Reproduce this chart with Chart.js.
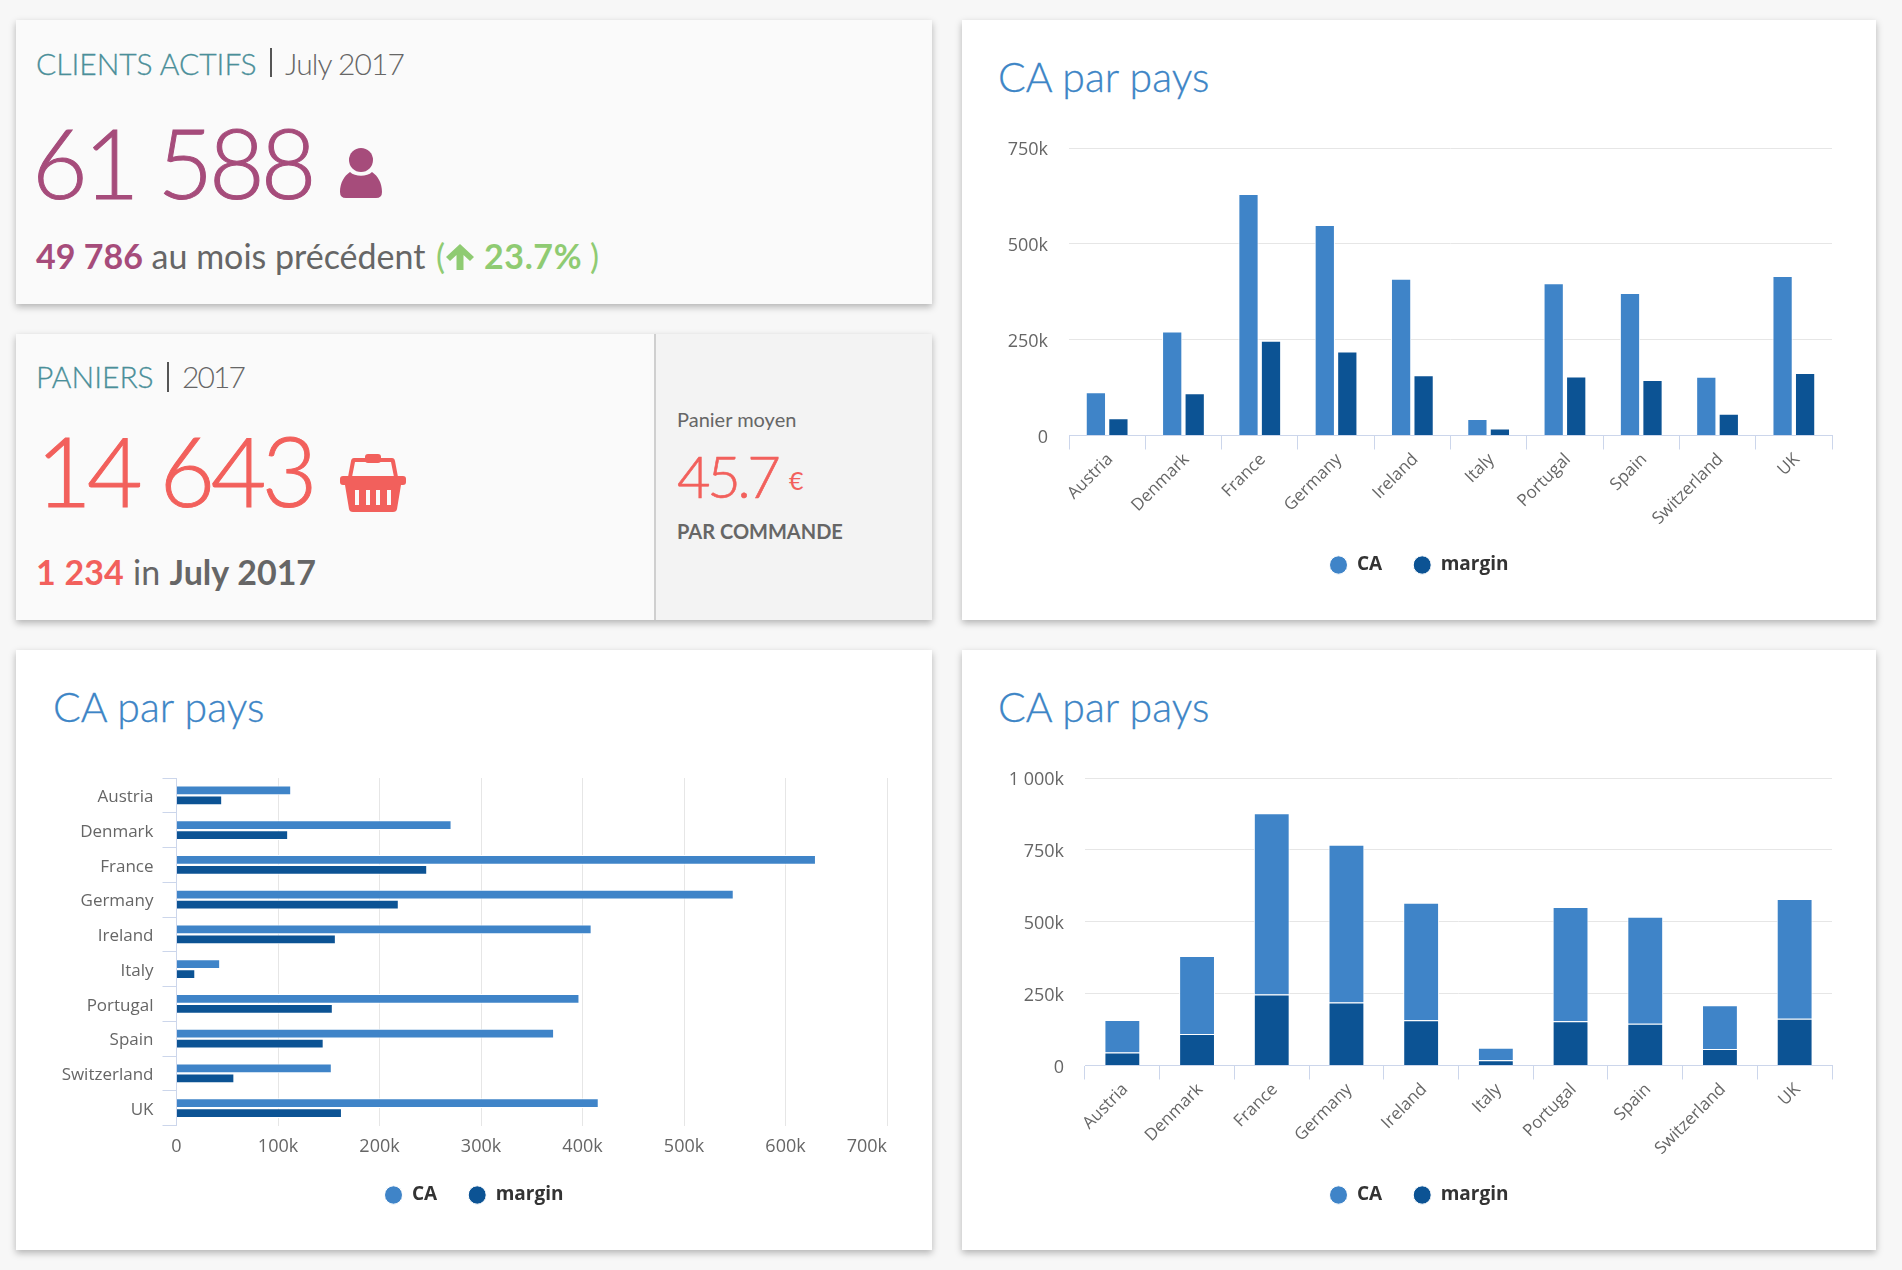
<!DOCTYPE html>
<html><head><meta charset="utf-8">
<script src="https://cdn.jsdelivr.net/npm/chart.js@4"></script>
<style>
html,body{margin:0;padding:0;background:#f7f7f7;width:1902px;height:1270px;overflow:hidden;font-family:Lato,sans-serif;}
.card{position:absolute;background:#fff;box-shadow:0 3px 7px rgba(0,0,0,.28);}
.soft{background:#fafafa;}
.t{position:absolute;white-space:nowrap;line-height:1;color:#666;}
canvas{position:absolute;display:block;}
.head{font-size:30px;font-weight:300;}
.teal{color:#4a8f99;-webkit-text-stroke:.3px currentColor;}
.big{font-weight:300;font-size:96px;letter-spacing:-4px;-webkit-text-stroke:1px currentColor;}
.sub{font-size:34px;font-weight:400;}
.green{color:#8fcb72;}
.title{font-size:41px;font-weight:300;color:#3d85c6;-webkit-text-stroke:.3px currentColor;}
.bar{position:absolute;width:2px;background:#555;}
svg{position:absolute;}
</style></head><body>
<div class="card soft" style="left:16px;top:20px;width:916px;height:284px"></div>
<div class="card soft" style="left:16px;top:334px;width:916px;height:286px"></div>
<div style="position:absolute;left:654px;top:334px;width:278px;height:286px;background:#f3f3f3;border-left:2px solid #cfcfcf;box-sizing:border-box"></div>
<div class="card" style="left:962px;top:20px;width:914px;height:600px"></div>
<div class="card" style="left:16px;top:650px;width:916px;height:600px"></div>
<div class="card" style="left:962px;top:650px;width:914px;height:600px"></div>

<div class="t head teal" style="left:36px;top:48px">CLIENTS ACTIFS</div>
<div class="bar" style="left:270px;top:48px;height:29px"></div>
<div class="t head" style="left:285px;top:48px;letter-spacing:-.9px">July 2017</div>
<div class="t big" style="left:32px;top:114px;color:#a64c7b">61 588</div>
<svg style="left:340px;top:148px" width="42" height="50" viewBox="0 0 42 50"><circle cx="21" cy="12" r="12" fill="#a64c7b"/><path d="M0 44C0 35 4 28 10 24C15 29 27 29 32 24C38 28 42 35 42 44Q42 50 36 50H6Q0 50 0 44Z" fill="#a64c7b"/></svg>
<div class="t sub" style="left:36px;top:239px"><b style="color:#a64c7b">49 786</b> au mois précédent</div>
<div class="t sub green" style="left:436px;top:239px">(</div>
<svg style="left:446px;top:244px" width="28" height="26" viewBox="0 0 28 26"><path d="M14 0L28 13L24 17L17.500 11V26H10.500V11L4 17L0 13Z" fill="#8fcb72"/></svg>
<div class="t sub green" style="left:484px;top:239px;font-weight:700;letter-spacing:.6px">23.7%</div>
<div class="t sub green" style="left:590px;top:239px">)</div>

<div class="t head teal" style="left:36px;top:361px">PANIERS</div>
<div class="bar" style="left:167px;top:362px;height:30px"></div>
<div class="t head" style="left:182px;top:361px;letter-spacing:-1.9px">2017</div>
<div class="t big" style="left:36px;top:422px;color:#f2605c;letter-spacing:-4.6px">14 643</div>
<svg style="left:340px;top:454px" width="66" height="58" viewBox="0 0 66 58"><g fill="#f2605c"><path d="M8 23L11 7Q11.500 4 14 4H52Q54.500 4 55 7L58 23H54L51 8H15L12 23Z"/><rect x="25" y="0" width="16" height="9" rx="3"/><rect x="0" y="22" width="66" height="9" rx="3"/><path d="M5 31H61L57 55Q56.500 58 53 58H13Q9.500 58 9 55ZM15 36V51H19V36ZM26 36V51H30V36ZM36 36V51H40V36ZM47 36V51H51V36Z" fill-rule="evenodd"/></g></svg>
<div class="t sub" style="left:36px;top:555px;word-spacing:.6px"><b style="color:#f2605c">1 234</b> in <b>July 2017</b></div>

<div class="t" style="left:677px;top:409px;font-size:20px">Panier moyen</div>
<div class="t" style="left:677px;top:447px;font-size:58px;font-weight:300;letter-spacing:-3.5px;color:#f2605c;-webkit-text-stroke:.6px currentColor">45.7</div>
<div class="t" style="left:789px;top:468px;font-size:25px;font-weight:400;color:#f2605c">€</div>
<div class="t" style="left:677px;top:521px;font-size:20px;font-weight:700">PAR COMMANDE</div>

<div class="t title" style="left:998px;top:56px">CA par pays</div>
<div class="t title" style="left:53px;top:686px">CA par pays</div>
<div class="t title" style="left:998px;top:686px">CA par pays</div>

<canvas id="c1" width="914" height="600" style="left:962px;top:20px"></canvas>
<canvas id="c2" width="916" height="600" style="left:16px;top:650px"></canvas>
<canvas id="c3" width="914" height="600" style="left:962px;top:650px"></canvas>
<script>
const categories=['Austria','Denmark','France','Germany','Ireland','Italy','Portugal','Spain','Switzerland','UK'];
const caValues=[113000,271000,630000,549000,409000,43000,397000,372000,153000,416000];
const marginValues=[45000,110000,247000,219000,157000,18500,154000,145000,57000,163000];
const columnTicks=['0','250k','500k','750k'];
const stackedTicks=['0','250k','500k','750k','1 000k'];
const barTicks=['0','100k','200k','300k','400k','500k','600k','700k'];
const caColor='#3f84c8', marginColor='#0c5394';
const catFont={family:'"Open Sans"',size:17};
const valFont={family:'"Open Sans"',size:18};
const legendCfg={position:'bottom',labels:{usePointStyle:true,pointStyleWidth:18,boxWidth:18,boxHeight:13,padding:31,color:'#333',font:{family:'"Open Sans"',size:19,weight:'bold'}}};
const noTip={legend:legendCfg,tooltip:{enabled:false}};
function fit(prop,val){return s=>{s[prop]=val;};}
function columnOpts(yMax,step,labels,yW,xH,top,bottom){
 return {responsive:false,animation:false,events:[],layout:{padding:{left:44,right:44,top:top,bottom:bottom}},plugins:noTip,
 scales:{
  x:{stacked:labels===stackedTicks,afterFit:fit('height',xH),grid:{drawOnChartArea:false,color:'#ccd6eb',tickLength:14},border:{color:'#ccd6eb'},
     ticks:{color:'#666',font:catFont,autoSkip:false,maxRotation:45,minRotation:45,padding:0,labelOffset:3}},
  y:{stacked:labels===stackedTicks,min:0,max:yMax,afterFit:fit('width',yW),grid:{color:'#e6e6e6',drawTicks:false},border:{display:false},
     ticks:{stepSize:step,color:'#666',font:valFont,padding:21,labelOffset:2,callback:(v,i)=>labels[i]}}
 }};
}
const ds=(label,data,color,extra)=>Object.assign({label,data,backgroundColor:color,hoverBackgroundColor:color,borderColor:'#fff',borderWidth:1},extra);
new Chart(document.getElementById('c1'),{type:'bar',data:{labels:categories,datasets:[
 ds('CA',caValues,caColor,{categoryPercentage:.59,barPercentage:.9}),
 ds('margin',marginValues,marginColor,{categoryPercentage:.59,barPercentage:.9})]},
 options:columnOpts(750000,250000,columnTicks,63,89,128,35.5)});

const lastTickLabel={id:'lastTickLabel',afterDraw(ch){const s=ch.scales.x,c=ch.ctx;c.save();c.font='18px "Open Sans"';c.fillStyle='#666';c.textAlign='right';c.textBaseline='middle';
 c.fillText(barTicks[barTicks.length-1],s.getPixelForValue(700000),s.top+21.5);c.restore();}};
new Chart(document.getElementById('c2'),{type:'bar',plugins:[lastTickLabel],data:{labels:categories,datasets:[
 ds('CA',caValues,caColor,{categoryPercentage:.58,barPercentage:.96}),
 ds('margin',marginValues,marginColor,{categoryPercentage:.58,barPercentage:.96})]},
 options:{indexAxis:'y',responsive:false,animation:false,events:[],layout:{padding:{left:45,right:45,top:128,bottom:35.5}},plugins:noTip,
 scales:{
  y:{afterFit:fit('width',115.5),grid:{drawOnChartArea:false,color:'#ccd6eb',tickLength:14},border:{color:'#ccd6eb'},ticks:{color:'#666',font:catFont,padding:9,autoSkip:false,labelOffset:2}},
  x:{min:0,max:700000,afterFit:fit('height',29),grid:{color:'#e6e6e6',drawTicks:false},border:{display:false},
     ticks:{stepSize:100000,color:'#666',font:valFont,padding:11,maxRotation:0,callback:(v,i)=>i<barTicks.length-1?barTicks[i]:''}}
 }}});

new Chart(document.getElementById('c3'),{type:'bar',data:{labels:categories,datasets:[
 ds('margin',marginValues,marginColor,{categoryPercentage:.48,barPercentage:1,order:0}),
 ds('CA',caValues,caColor,{categoryPercentage:.48,barPercentage:1,order:1})]},
 options:(()=>{const o=columnOpts(1000000,250000,stackedTicks,79,89,128,35.5);o.plugins=Object.assign({},noTip,{legend:Object.assign({},legendCfg,{reverse:true})});return o;})()});
</script>
</body></html>
